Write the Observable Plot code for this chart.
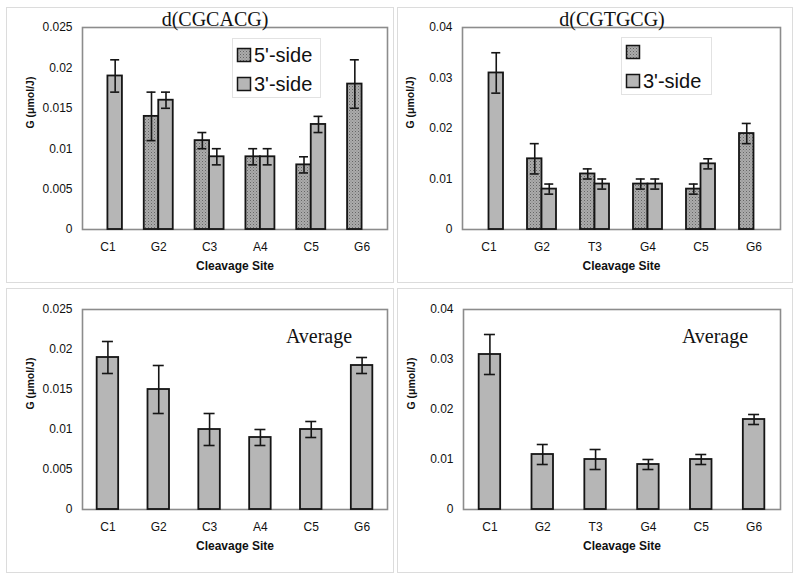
<!DOCTYPE html>
<html><head><meta charset="utf-8">
<script src="https://cdn.jsdelivr.net/npm/d3@7"></script>
<script src="https://cdn.jsdelivr.net/npm/@observablehq/plot@0.6"></script>
<style>
body{margin:0;background:#fff;width:800px;height:580px;position:relative;overflow:hidden;font-family:"Liberation Sans",Arial,sans-serif}
.panel{position:absolute;outline:1px solid #dcdcdc}
.panel svg{position:absolute;left:0;top:0}
#overlay{position:absolute;left:0;top:0}
</style></head><body>
<script>
// ---- data ----
const sitesA = ["C1","G2","C3","A4","C5","G6"];
const sitesB = ["C1","G2","T3","G4","C5","G6"];
// d(CGCACG)
const a5Val = [null, 0.014, 0.011, 0.009, 0.008, 0.018];
const a5Err = [null, 0.003, 0.001, 0.001, 0.001, 0.003];
const a3Val = [0.019, 0.016, 0.009, 0.009, 0.013, null];
const a3Err = [0.002, 0.001, 0.001, 0.001, 0.001, null];
// d(CGTGCG)
const b5Val = [null, 0.014, 0.011, 0.009, 0.008, 0.019];
const b5Err = [null, 0.003, 0.001, 0.001, 0.001, 0.002];
const b3Val = [0.031, 0.008, 0.009, 0.009, 0.013, null];
const b3Err = [0.004, 0.001, 0.001, 0.001, 0.001, null];
// averages
const aAvgVal = [0.019, 0.015, 0.010, 0.009, 0.010, 0.018];
const aAvgErr = [0.002, 0.003, 0.002, 0.001, 0.001, 0.001];
const bAvgVal = [0.031, 0.011, 0.010, 0.009, 0.010, 0.018];
const bAvgErr = [0.004, 0.002, 0.002, 0.001, 0.001, 0.001];
const yTicksA = [0, 0.005, 0.01, 0.015, 0.02, 0.025];
const yTicksB = [0, 0.01, 0.02, 0.03, 0.04];
const titleA = "d(CGCACG)", titleB = "d(CGTGCG)", titleAvg = "Average";
const legend5 = "5'-side", legend3 = "3'-side";
const yLabel = "G (μmol/J)", xLabel = "Cleavage Site";

const ns = "http://www.w3.org/2000/svg";
const LIGHT = "#b6b6b6";
function rows(sites, vals, errs) {
  return sites.map((s, i) => ({site: s, v: vals[i], lo: vals[i] - errs[i], hi: vals[i] + errs[i]}))
    .filter(d => d.v != null);
}
const fmt = d => String(+d.toFixed(3));

function panel(cfg) {
  const {left, top, width, height, mL, mR, mT, mB, sites, yTicks, series, pid} = cfg;
  const pw = width - mL - mR;
  const bw = pw / sites.length;
  const marks = [Plot.frame({stroke: "#8c8c8c", strokeWidth: 1.6})];
  for (const s of series) {
    const c = s.offset, h = s.barW / 2;
    marks.push(Plot.barY(s.rows, {x: "site", y: "v", fill: s.fill, stroke: "#151515", strokeWidth: 1.8,
      insetLeft: bw / 2 + c - h, insetRight: bw / 2 - c - h}));
  }
  for (const s of series) {
    const c = s.offset, k = s.cap / 2;
    marks.push(Plot.ruleX(s.rows, {x: "site", y1: "lo", y2: "hi", dx: c, stroke: "#151515", strokeWidth: 1.6}));
    for (const key of ["lo", "hi"]) {
      marks.push(Plot.tickY(s.rows, {x: "site", y: key, stroke: "#151515", strokeWidth: 1.6,
        insetLeft: bw / 2 + c - k, insetRight: bw / 2 - c - k}));
    }
  }
  marks.push(Plot.text([yLabel], {text: d => d, frameAnchor: "left", dx: -52, rotate: -90,
    fontWeight: "bold", fontSize: 10.5, fill: "#111"}));
  marks.push(Plot.text([xLabel], {text: d => d, frameAnchor: "bottom", dy: 40,
    fontWeight: "bold", fontSize: 12, fill: "#111"}));
  const svg = Plot.plot({
    width, height, marginLeft: mL, marginRight: mR, marginTop: mT, marginBottom: mB,
    style: {fontFamily: "'Liberation Sans', Arial, sans-serif", fontSize: "12px", color: "#111", background: "transparent"},
    x: {domain: sites, padding: 0, round: false, tickSize: 0, tickPadding: 13, label: null},
    y: {domain: [yTicks[0], yTicks[yTicks.length - 1]], ticks: yTicks, tickFormat: fmt, tickSize: 0, tickPadding: 10, label: null},
    marks
  });
  const defs = document.createElementNS(ns, "defs");
  defs.innerHTML = `<pattern id="stip${pid}" width="3" height="3" patternUnits="userSpaceOnUse">
    <rect width="3" height="3" fill="#ababab"/><rect width="1" height="1" fill="#666"/><rect x="1.5" y="1.5" width="1" height="1" fill="#858585"/></pattern>`;
  svg.prepend(defs);
  const div = document.createElement("div");
  div.className = "panel";
  Object.assign(div.style, {left: left + "px", top: top + "px", width: width + "px", height: height + "px"});
  div.appendChild(svg);
  document.body.appendChild(div);
}

const g5 = pid => ({offset: -7.25, barW: 14.5, cap: 9, fill: `url(#stip${pid})`});
const g3 = () => ({offset: 7.25, barW: 14.5, cap: 9, fill: LIGHT});

panel({pid: 1, left: 7, top: 8, width: 386, height: 274, mL: 75, mR: 6, mT: 19, mB: 53, sites: sitesA, yTicks: yTicksA,
  series: [{...g5(1), rows: rows(sitesA, a5Val, a5Err)}, {...g3(), rows: rows(sitesA, a3Val, a3Err)}]});
panel({pid: 2, left: 398, top: 8, width: 394, height: 274, mL: 64, mR: 12, mT: 19, mB: 53, sites: sitesB, yTicks: yTicksB,
  series: [{...g5(2), rows: rows(sitesB, b5Val, b5Err)}, {...g3(), rows: rows(sitesB, b3Val, b3Err)}]});
panel({pid: 3, left: 7, top: 289, width: 386, height: 283, mL: 75, mR: 6, mT: 20, mB: 63, sites: sitesA, yTicks: yTicksA,
  series: [{offset: 0, barW: 21.5, cap: 11, fill: LIGHT, rows: rows(sitesA, aAvgVal, aAvgErr)}]});
panel({pid: 4, left: 398, top: 289, width: 394, height: 283, mL: 65, mR: 12, mT: 20, mB: 63, sites: sitesB, yTicks: yTicksB,
  series: [{offset: 0, barW: 21.5, cap: 11, fill: LIGHT, rows: rows(sitesB, bAvgVal, bAvgErr)}]});

// ---- titles and legends overlay ----
const ov = document.createElementNS(ns, "svg");
ov.setAttribute("id", "overlay");
ov.setAttribute("width", 800); ov.setAttribute("height", 580);
const serif = "'Liberation Serif','Times New Roman',serif";
const sans = "'Liberation Sans',Arial,sans-serif";
function txt(s, x, y, anchor, family, size) {
  const t = document.createElementNS(ns, "text");
  t.textContent = s;
  t.setAttribute("x", x); t.setAttribute("y", y);
  t.setAttribute("text-anchor", anchor);
  t.setAttribute("font-family", family); t.setAttribute("font-size", size);
  t.setAttribute("fill", "#111");
  ov.appendChild(t);
}
function rect(x, y, w, h, fill, stroke, sw) {
  const r = document.createElementNS(ns, "rect");
  r.setAttribute("x", x); r.setAttribute("y", y); r.setAttribute("width", w); r.setAttribute("height", h);
  r.setAttribute("fill", fill); r.setAttribute("stroke", stroke); r.setAttribute("stroke-width", sw);
  ov.appendChild(r);
}
const odefs = document.createElementNS(ns, "defs");
odefs.innerHTML = `<pattern id="stipL" width="3" height="3" patternUnits="userSpaceOnUse">
    <rect width="3" height="3" fill="#ababab"/><rect width="1" height="1" fill="#666"/><rect x="1.5" y="1.5" width="1" height="1" fill="#858585"/></pattern>`;
ov.appendChild(odefs);

txt(titleA, 215, 26, "middle", serif, 20);
txt(titleB, 612, 26, "middle", serif, 20);
txt(titleAvg, 319, 343, "middle", serif, 20);
txt(titleAvg, 715, 343, "middle", serif, 20);

// legend panel 1
rect(232.5, 38.5, 88, 59, "#fff", "#e2e2e2", 1);
rect(237.5, 48.5, 13, 13, "url(#stipL)", "#151515", 1.5);
txt(legend5, 254, 62, "start", sans, 20);
rect(237.5, 77.5, 13, 13, LIGHT, "#151515", 1.5);
txt(legend3, 254, 91, "start", sans, 20);
// legend panel 2 (first label blank in source)
rect(621.5, 37.5, 90, 57, "#fff", "#e2e2e2", 1);
rect(626.5, 45.5, 13, 13, "url(#stipL)", "#151515", 1.5);
rect(626.5, 74.5, 13, 13, LIGHT, "#151515", 1.5);
txt(legend3, 643, 88, "start", sans, 20);
document.body.appendChild(ov);
</script>
</body></html>
